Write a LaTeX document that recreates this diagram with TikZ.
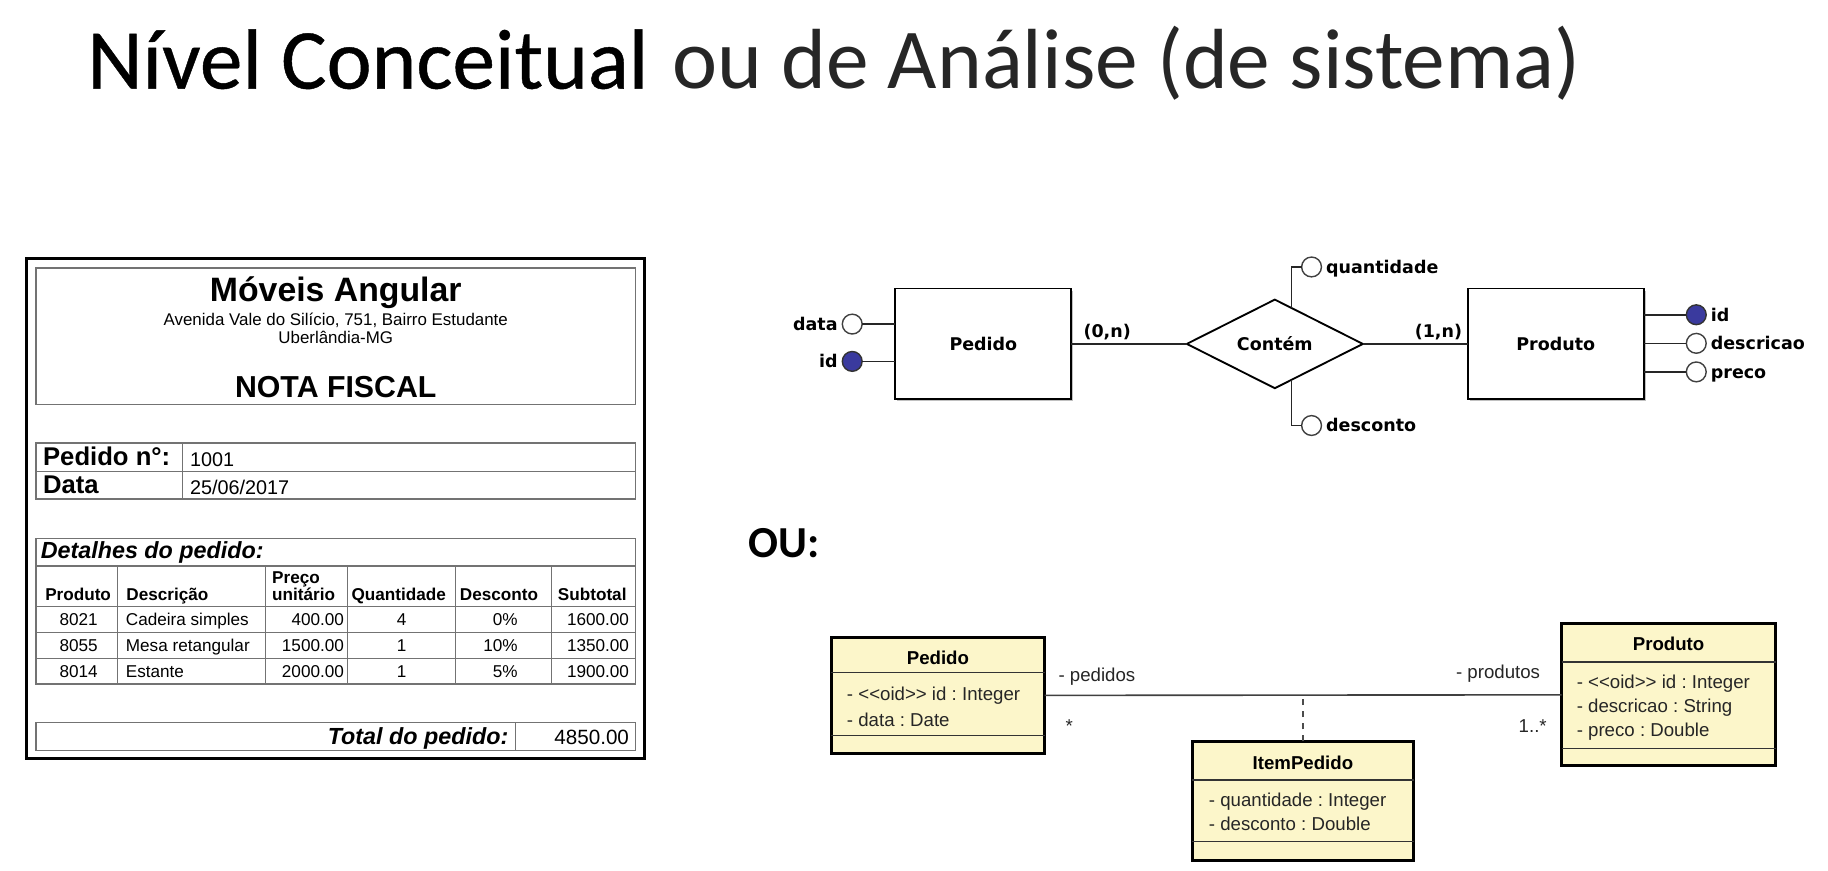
\documentclass[tikz,border=0pt]{standalone}
\usepackage{fontspec}
\setmainfont{Liberation Sans}
\newfontfamily\slidefont{Carlito}
\newfontfamily\slidefontdark[FakeBold=0.5]{Carlito}
\newfontfamily\erfont{DejaVu Sans}
\usepackage{tikz}
\usetikzlibrary{positioning,calc,shapes.geometric,shadows}
\frenchspacing

\definecolor{keyblue}{RGB}{58,58,158}
\definecolor{umlyellow}{RGB}{252,246,202}

\begin{document}
\begin{tikzpicture}[x=0.5pt,y=-0.5pt,
  node distance=2pt,
  every node/.style={inner sep=0pt,outer sep=0pt},
  frame/.style={draw=black,line width=1.3pt},
  rule/.style={draw=black!55,line width=0.55pt},
  cell/.style={anchor=base,font=\fontsize{7.35}{8.5}\selectfont},
  cellhead/.style={cell,font=\bfseries\fontsize{7.35}{8.5}\selectfont},
  entity/.style={draw,fill=white,line width=0.8pt,minimum width=75.5pt,minimum height=47.5pt,
    drop shadow={shadow xshift=0.9pt,shadow yshift=-0.9pt,opacity=0.35,fill=black!70},
    font=\erfont\bfseries\fontsize{7.5}{9}\selectfont},
  relation/.style={draw,diamond,aspect=2,line width=0.8pt,minimum width=75.5pt,minimum height=38pt,
    font=\erfont\bfseries\fontsize{7.5}{9}\selectfont},
  attr/.style={draw=black!75,fill=white,circle,line width=0.6pt,minimum size=8.5pt},
  attrkey/.style={attr,fill=keyblue,draw=black!80},
  erlbl/.style={font=\erfont\bfseries\fontsize{7.5}{9}\selectfont,text height=0.72em,text depth=0.18em},
  erline/.style={draw=black!85,line width=0.65pt},
  umlbox/.style={draw=black,fill=umlyellow,line width=1.3pt},
  umlsep/.style={draw=black!80,line width=0.6pt},
  umltxt/.style={anchor=base west,font=\fontsize{8}{9}\selectfont,text=black!85},
  umltitle/.style={anchor=base,font=\bfseries\fontsize{8}{9}\selectfont},
  assoc/.style={draw=black!75,line width=0.7pt},
  linkdash/.style={draw=black!70,line width=0.8pt,dash pattern=on 2.6pt off 2.6pt}
]
\useasboundingbox (0,0) rectangle (1568,747);
\fill[white] (0,0) rectangle (1568,747);

% titulo
\node[anchor=base west,font=\fontsize{36.6}{40}\selectfont] (title) at (75,76)
  {{\slidefontdark Nível Conceitual} {\slidefont\color{black!85}ou de Análise (de sistema)}};

% nota fiscal
\draw[frame] (23,221.5) rectangle (553,651);
\draw[rule] (31,230) rectangle (545,347);
\node[anchor=base,font=\bfseries\fontsize{14.5}{16}\selectfont] (loja) at (288,258.5) {Móveis Angular};
\node[anchor=base,font=\fontsize{7.25}{8}\selectfont] (end1) at (288,279.5) {Avenida Vale do Silício, 751, Bairro Estudante};
\node[anchor=base,font=\fontsize{7.25}{8}\selectfont] (end2) at (288,295) {Uberlândia-MG};
\node[anchor=base,font=\bfseries\fontsize{13}{15}\selectfont] (nf) at (288,341) {NOTA FISCAL};

\draw[rule] (31,380) rectangle (545,428);
\draw[rule] (31,404.5) -- (545,404.5);
\draw[rule] (156.5,380) -- (156.5,428);
\node[anchor=base west,font=\bfseries\fontsize{11}{12}\selectfont] (pedlbl) at (37,399.5) {Pedido n°:};
\node[anchor=base west,font=\fontsize{8.5}{10}\selectfont] (pednum) at (163,400.5) {1001};
\node[anchor=base west,font=\bfseries\fontsize{11}{12}\selectfont] (datalbl) at (37,423.5) {Data};
\node[anchor=base west,font=\fontsize{8.5}{10}\selectfont] (dataval) at (163,424.5) {25/06/2017};

\draw[rule] (31,461.7) rectangle (545,586.7);
\draw[rule] (31,485.5) -- (545,485.5);
\draw[rule] (31,520) -- (545,520);
\draw[rule] (31,542.7) -- (545,542.7);
\draw[rule] (31,564.6) -- (545,564.6);
\draw[rule] (101,485.5) -- (101,586.7);
\draw[rule] (228,485.5) -- (228,586.7);
\draw[rule] (298,485.5) -- (298,586.7);
\draw[rule] (391,485.5) -- (391,586.7);
\draw[rule] (473,485.5) -- (473,586.7);
\node[anchor=base west,font=\bfseries\itshape\fontsize{10}{12}\selectfont] (detalhes) at (35,479) {Detalhes do pedido:};

\node[cellhead] (hprod) at (67,515.3) {Produto};
\node[cellhead,anchor=base west] (hdesc) at (108.5,515.3) {Descrição};
\node[cellhead,anchor=base west] (hpreco) at (233.5,500.4) {Preço};
\node[cellhead,anchor=base west] (hunit) at (233.5,515.3) {unitário};
\node[cellhead] (hqtd) at (342,515.3) {Quantidade};
\node[cellhead] (hdesconto) at (428,515.3) {Desconto};
\node[cellhead] (hsub) at (508,515.3) {Subtotal};

\node[cell] (r1prod) at (67.5,536.5) {8021};
\node[cell,anchor=base west] (r1desc) at (108,536.5) {Cadeira simples};
\node[cell,anchor=base east] (r1preco) at (295,536.5) {400.00};
\node[cell] (r1qtd) at (344.6,536.5) {4};
\node[cell,anchor=base east] (r1desconto) at (444,536.5) {0\%};
\node[cell,anchor=base east] (r1sub) at (539.5,536.5) {1600.00};

\node[cell] (r2prod) at (67.5,558.8) {8055};
\node[cell,anchor=base west] (r2desc) at (108,558.8) {Mesa retangular};
\node[cell,anchor=base east] (r2preco) at (295,558.8) {1500.00};
\node[cell] (r2qtd) at (344.6,558.8) {1};
\node[cell,anchor=base east] (r2desconto) at (444,558.8) {10\%};
\node[cell,anchor=base east] (r2sub) at (539.5,558.8) {1350.00};

\node[cell] (r3prod) at (67.5,581) {8014};
\node[cell,anchor=base west] (r3desc) at (108,581) {Estante};
\node[cell,anchor=base east] (r3preco) at (295,581) {2000.00};
\node[cell] (r3qtd) at (344.6,581) {1};
\node[cell,anchor=base east] (r3desconto) at (444,581) {5\%};
\node[cell,anchor=base east] (r3sub) at (539.5,581) {1900.00};

\draw[rule] (31,620) rectangle (545,644);
\draw[rule] (442,620) -- (442,644);
\node[anchor=base east,font=\bfseries\itshape\fontsize{10}{12}\selectfont] (totlbl) at (436,638.5) {Total do pedido:};
\node[anchor=base east,font=\fontsize{8.85}{10}\selectfont] (totval) at (539.5,638.5) {4850.00};

% modelo ER
\node[entity] (pedidoE) at (843.5,295) {Pedido};
\node[relation] (contem) at (1093.5,295) {Contém};
\node[entity] (produtoE) at (1334.5,295) {Produto};

\draw[erline] (pedidoE.east) -- node[pos=0.31,above=1pt,erlbl] (card1) {(0,n)} (contem.west);
\draw[erline] (contem.east) -- node[pos=0.72,above=1pt,erlbl] (card2) {(1,n)} (produtoE.west);

\node[attr] (dataA) at (731,278) {};
\node[attrkey] (idA) at (731,310) {};
\node[erlbl,left=of dataA] (dataL) {data};
\node[erlbl,left=of idA] (idL) {id};
\draw[erline] (dataA) -- (dataA -| pedidoE.west);
\draw[erline] (idA) -- (idA -| pedidoE.west);

\node[attr] (qtdA) at (1125,229) {};
\node[attr] (descA) at (1125,365) {};
\node[erlbl,right=of qtdA] (qtdL) {quantidade};
\node[erlbl,right=of descA] (descL) {desconto};
\draw[erline] (qtdA) -| ($(contem.north)!0.19!(contem.east)$);
\draw[erline] (descA) -| ($(contem.south)!0.19!(contem.east)$);

\node[attrkey] (pidA) at (1455,270) {};
\node[attr] (pdescA) at (1455,294.5) {};
\node[attr] (pprecoA) at (1455,319) {};
\node[erlbl,right=of pidA] (pidL) {id};
\node[erlbl,right=of pdescA] (pdescL) {descricao};
\node[erlbl,right=of pprecoA] (pprecoL) {preco};
\draw[erline] (pidA) -- (pidA -| produtoE.east);
\draw[erline] (pdescA) -- (pdescA -| produtoE.east);
\draw[erline] (pprecoA) -- (pprecoA -| produtoE.east);

\node[anchor=base west,font=\slidefont\bfseries\fontsize{19}{22}\selectfont] (ou) at (642,478) {OU:};

% modelo UML
\node[umlbox,minimum width=91.5pt,minimum height=49.5pt] (pedidoC) at (804.5,596.5) {};
\draw[umlsep] (pedidoC.west |- 0,577) -- (pedidoC.east |- 0,577);
\draw[umlsep] (pedidoC.west |- 0,631) -- (pedidoC.east |- 0,631);
\node[umltitle] (pedidoT) at (804.5,569.6) {Pedido};
\node[umltxt] (pedidoA1) at (726.5,601) {- {<}{<}oid{>}{>} id : Integer};
\node[umltxt] (pedidoA2) at (726.5,622.8) {- data : Date};

\node[umlbox,minimum width=91.75pt,minimum height=61pt] (produtoC) at (1431.25,596) {};
\draw[umlsep] (produtoC.west |- 0,568) -- (produtoC.east |- 0,568);
\draw[umlsep] (produtoC.west |- 0,642) -- (produtoC.east |- 0,642);
\node[umltitle] (produtoT) at (1431.25,558) {Produto};
\node[umltxt] (produtoA1) at (1352.5,590.4) {- {<}{<}oid{>}{>} id : Integer};
\node[umltxt] (produtoA2) at (1352.5,611.3) {- descricao : String};
\node[umltxt] (produtoA3) at (1352.5,631.9) {- preco : Double};

\node[umlbox,minimum width=95pt,minimum height=50.85pt] (itemC) at (1117.6,686.85) {};
\draw[umlsep] (itemC.west |- 0,669) -- (itemC.east |- 0,669);
\draw[umlsep] (itemC.west |- 0,722) -- (itemC.east |- 0,722);
\node[umltitle] (itemT) at (1117.6,660) {ItemPedido};
\node[umltxt] (itemA1) at (1037,692) {- quantidade : Integer};
\node[umltxt] (itemA2) at (1037,712) {- desconto : Double};

\draw[assoc] (pedidoC.east) -- (produtoC.west);
\draw[linkdash] (itemC.north) -- (itemC.north |- pedidoC.east);
\node[umltxt] (rolePed) at (908,584.7) {- pedidos};
\node[umltxt] (multPed) at (914,628.5) {*};
\node[umltxt,anchor=base east] (roleProd) at (1321,581.6) {- produtos};
\node[umltxt,anchor=base east] (multProd) at (1326.7,628.5) {1..*};
\end{tikzpicture}
\end{document}
